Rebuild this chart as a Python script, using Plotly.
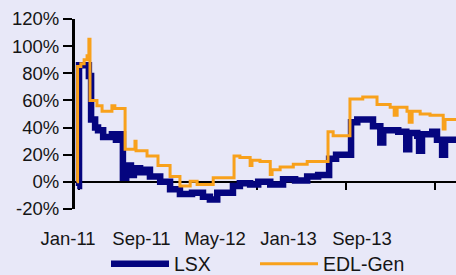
import plotly.graph_objects as go

# ---- data ----
LSX_DATES = ["2010-12-27", "2011-01-01", "2011-01-28", "2011-02-03", "2011-02-14", "2011-02-22",
             "2011-03-08", "2011-04-01", "2011-04-12", "2011-04-18", "2011-05-01", "2011-05-10",
             "2011-05-23", "2011-05-31", "2011-06-17", "2011-06-28", "2011-07-14", "2011-08-11",
             "2011-09-07", "2011-10-04", "2011-11-06", "2011-12-06", "2011-12-25", "2012-01-14",
             "2012-02-26", "2012-03-16", "2012-04-13", "2012-05-05", "2012-06-07", "2012-07-12",
             "2012-08-14", "2012-09-16", "2012-10-16", "2012-11-15", "2012-12-04", "2013-01-14",
             "2013-01-31", "2013-03-15", "2013-04-04", "2013-04-12", "2013-05-23", "2013-06-14",
             "2013-06-22", "2013-07-14", "2013-07-19", "2013-07-27", "2013-08-24", "2013-09-06",
             "2013-09-20", "2013-09-28", "2013-10-29"]
LSX_VALUES = [-3, 86, 78, 46, 40, 38,
              33, 35, 31, 35, 3, 12,
              5, 10, 7, 9, 4, 0,
              -5.5, -9, -8, -11, -13, -8,
              -3, -1, -2, 0, -2, 2,
              1, 4, 5, 17, 20, 44,
              46, 41, 29, 38, 37, 24,
              36, 34, 23, 35, 37, 31,
              20, 31, 30]

EDL_DATES = ["2010-12-26", "2010-12-28", "2011-01-06", "2011-01-15", "2011-01-23", "2011-01-28",
             "2011-01-31", "2011-02-19", "2011-03-05", "2011-04-01", "2011-04-09", "2011-05-07",
             "2011-06-03", "2011-06-06", "2011-07-06", "2011-08-05", "2011-09-07", "2011-10-04",
             "2011-11-01", "2011-11-20", "2012-01-03", "2012-02-29", "2012-03-16", "2012-04-13",
             "2012-04-18", "2012-05-10", "2012-06-07", "2012-06-12", "2012-07-04", "2012-08-09",
             "2012-09-16", "2012-11-12", "2012-11-26", "2013-01-11", "2013-02-15", "2013-03-26",
             "2013-05-01", "2013-05-12", "2013-05-20", "2013-06-16", "2013-06-22", "2013-06-30",
             "2013-07-22", "2013-08-18", "2013-09-23", "2013-09-28", "2013-10-29"]
EDL_VALUES = [0, 85, 87, 90, 93, 105,
              60, 56, 52, 56, 54, 24,
              30, 23, 19, 12, 4, -3,
              0.5, -2, 3, 19, 18, 12,
              16, 15, 5.5, 9, 11, 13,
              15, 37, 34, 61, 62.5, 57,
              55, 49, 55, 52, 44, 52,
              50, 49, 39, 46, 46]

SERIES_NAMES = ["LSX", "EDL-Gen"]
X_TICK_DATES = ["2011-01-01", "2011-09-01", "2012-05-01", "2013-01-01", "2013-09-01"]
X_TICK_LABELS = ["Jan-11", "Sep-11", "May-12", "Jan-13", "Sep-13"]
Y_TICKS = [-20, 0, 20, 40, 60, 80, 100, 120]
Y_TICK_LABELS = ["-20%", "0%", "20%", "40%", "60%", "80%", "100%", "120%"]

BG = "#E8E8F8"
NAVY = "#05057F"
ORANGE = "#F8A11C"
FONT = dict(family="Liberation Sans, Arial, sans-serif", size=18.5, color="#151515")
LEGEND_FONT = dict(family="Liberation Sans, Arial, sans-serif", size=19.5, color="#151515")

W, H = 456, 275
Y_MIN, Y_MAX = -20, 120

fig = go.Figure()
fig.add_trace(go.Scatter(x=LSX_DATES, y=LSX_VALUES, name=SERIES_NAMES[0], mode="lines",
                         line=dict(color=NAVY, width=6.5, shape="hv")))
fig.add_trace(go.Scatter(x=EDL_DATES, y=EDL_VALUES, name=SERIES_NAMES[1], mode="lines",
                         line=dict(color=ORANGE, width=3, shape="hv")))
# carrier for the category-label axis
fig.add_trace(go.Scatter(x=list(range(len(X_TICK_LABELS))), y=[-10] * len(X_TICK_LABELS),
                         mode="markers", marker=dict(opacity=0), showlegend=False,
                         hoverinfo="skip", xaxis="x2", yaxis="y2"))

lab_step = 73.5
lab_first = 68.0
fig.update_layout(
    width=W, height=H,
    margin=dict(l=0, r=0, t=19, b=66, autoexpand=False),
    paper_bgcolor=BG, plot_bgcolor="rgba(0,0,0,0)",
    font=FONT,
    showlegend=True,
    legend=dict(orientation="h", x=106 / W, xanchor="left", y=-0.29, yanchor="middle",
                bgcolor="rgba(0,0,0,0)", font=LEGEND_FONT, itemwidth=58, entrywidth=76,
                traceorder="normal"),
    xaxis=dict(domain=[75 / W, 1], type="date", range=["2010-12-21", "2013-10-28"],
               anchor="free", position=(0 - Y_MIN) / (Y_MAX - Y_MIN), automargin=False,
               showline=True, linecolor="black", linewidth=1.5,
               ticks="outside", ticklen=7, tickwidth=1.5, tickcolor="black",
               tickvals=X_TICK_DATES, showticklabels=False,
               showgrid=False, zeroline=False, layer="below traces"),
    yaxis=dict(domain=[0, 1], range=[Y_MIN, Y_MAX], anchor="x", automargin=False,
               showline=True, linecolor="black", linewidth=3,
               ticks="outside", ticklen=9, tickwidth=1.5, tickcolor="black",
               tickvals=Y_TICKS, ticktext=Y_TICK_LABELS,
               showgrid=False, zeroline=False),
    xaxis2=dict(domain=[0, 1], anchor="y2", automargin=False,
                range=[(0 - lab_first) / lab_step, (W - lab_first) / lab_step],
                tickvals=list(range(len(X_TICK_LABELS))), ticktext=X_TICK_LABELS,
                ticks="outside", ticklen=13, tickcolor="rgba(0,0,0,0)",
                showline=False, showgrid=False, zeroline=False),
    yaxis2=dict(domain=[0, 1], anchor="x2", range=[0, 1], visible=False, automargin=False),
)

fig.write_html("out.html",
               config={"displayModeBar": False},
               post_script="document.body.style.margin='0';"
                           "document.body.style.background='" + BG + "';")
